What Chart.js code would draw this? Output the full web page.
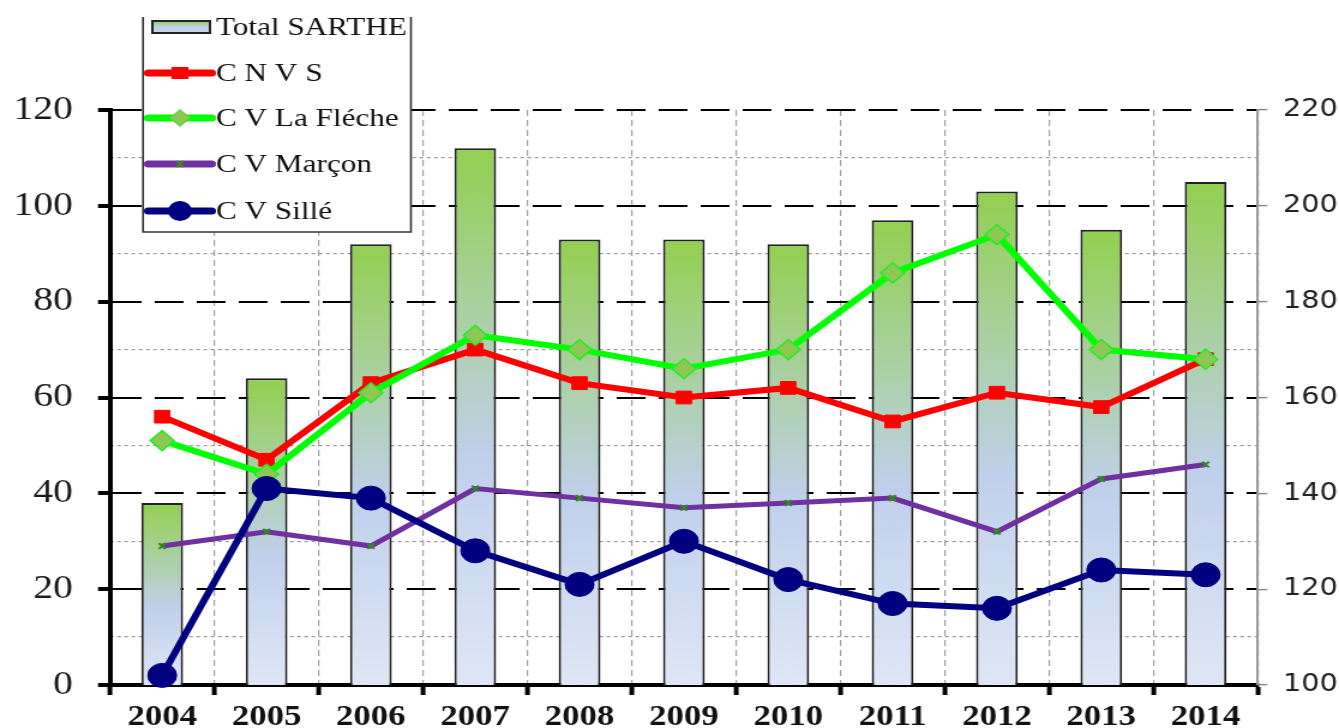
<!DOCTYPE html>
<html><head><meta charset="utf-8">
<script src="https://cdn.jsdelivr.net/npm/chart.js@4.4.1/dist/chart.umd.min.js"></script>
<style>
html,body{margin:0;padding:0;background:#fff;overflow:hidden;width:1339px;height:728px;}
#c{display:block;transform:scaleX(1.19982);transform-origin:0 0;}
</style></head><body>
<canvas id="c" width="1116" height="745"></canvas>
<script>
// ---- data ----
const years = ['2004','2005','2006','2007','2008','2009','2010','2011','2012','2013','2014'];
const totalSarthe = [138,164,192,212,193,193,192,197,203,195,205];
const cnvs = [56,47,63,70,63,60,62,55,61,58,68];
const laFleche = [51,44,61,73,70,66,70,86,94,70,68];
const marcon = [29,32,29,41,39,37,38,39,32,43,46];
const sille = [2,41,39,28,21,30,22,17,16,24,23];
const seriesNames = ['Total SARTHE','C N V S','C V La Fléche','C V Marçon','C V Sillé'];
const leftRange = [0,120,20];
const rightRange = [100,220,20,10];

function barFill(ctx){
  const chart = ctx.chart, area = chart.chartArea;
  if(!area || ctx.type !== 'data') return '#b0cfa8';
  const top = chart.scales.y2.getPixelForValue(ctx.raw);
  const g = chart.ctx.createLinearGradient(0, top, 0, area.bottom);
  g.addColorStop(0,'#92d050');
  g.addColorStop(0.58,'#c0d0ec');
  g.addColorStop(1,'#dfe7f5');
  return g;
}

const legendPlugin = {
  id:'boxLegend',
  afterDraw(chart){
    const c = chart.ctx;
    c.save();
    const L=119.2, R=342.5, T=17, B=232;
    c.fillStyle='#fff'; c.fillRect(L,T,R-L,B-T);
    c.strokeStyle='#333'; c.lineWidth=1.6;
    c.beginPath(); c.moveTo(L,T); c.lineTo(L,B); c.lineTo(R,B); c.lineTo(R,T); c.stroke();
    const rows=[27,73,118,164,211];
    const x1=123.5, x2=176.5, cx=150;
    let g=c.createLinearGradient(0,21,0,33);
    g.addColorStop(0,'#92d050'); g.addColorStop(0.5,'#c0d0ec'); g.addColorStop(1,'#c6d5ee');
    c.fillStyle=g; c.fillRect(127,21,48,12);
    c.strokeStyle='#222'; c.lineWidth=2; c.strokeRect(127,21,48,12);
    c.lineCap='round';
    const line=(y,col)=>{c.strokeStyle=col;c.lineWidth=7;c.beginPath();c.moveTo(x1,y);c.lineTo(x2,y);c.stroke();};
    line(rows[1],'#ff0000');
    c.fillStyle='#ff0000'; c.fillRect(cx-7,rows[1]-6,14,12);
    line(rows[2],'#00ff00');
    c.beginPath(); c.moveTo(cx-8,rows[2]); c.lineTo(cx,rows[2]-8); c.lineTo(cx+8,rows[2]); c.lineTo(cx,rows[2]+8); c.closePath();
    c.fillStyle='#8dc854'; c.fill(); c.lineWidth=1.5; c.strokeStyle='#6ad040'; c.stroke();
    line(rows[3],'#7030a0');
    c.strokeStyle='#3a8a2a'; c.lineWidth=2; c.lineCap='butt';
    c.beginPath(); c.moveTo(cx-3,rows[3]-3); c.lineTo(cx+3,rows[3]+3); c.moveTo(cx+3,rows[3]-3); c.lineTo(cx-3,rows[3]+3); c.stroke();
    c.lineCap='round';
    line(rows[4],'#000080');
    c.fillStyle='#000080'; c.beginPath(); c.arc(cx,rows[4],10,0,Math.PI*2); c.fill();
    c.font='26px "Liberation Serif"'; c.fillStyle='#111'; c.textBaseline='middle'; c.textAlign='left';
    seriesNames.forEach((n,i)=>c.fillText(n,180,rows[i]+1));
    c.restore();
  }
};

new Chart(document.getElementById('c'), {
  data: {
    labels: years,
    datasets: [
      {type:'line', label:seriesNames[4], data:sille, yAxisID:'y', order:1, borderColor:'#000080', borderWidth:6, tension:0,
       pointStyle:'circle', pointRadius:12, pointBackgroundColor:'#000080', pointBorderColor:'#000080', pointBorderWidth:1, clip:false},
      {type:'line', label:seriesNames[3], data:marcon, yAxisID:'y', order:2, borderColor:'#7030a0', borderWidth:5, tension:0,
       pointStyle:'crossRot', pointRadius:4, pointBorderColor:'#2f8a22', pointBorderWidth:2, clip:false},
      {type:'line', label:seriesNames[2], data:laFleche, yAxisID:'y', order:3, borderColor:'#00ff00', borderWidth:6, tension:0,
       pointStyle:'rectRot', pointRadius:10, pointBackgroundColor:'#8dc854', pointBorderColor:'#22ee22', pointBorderWidth:1.5, clip:false},
      {type:'line', label:seriesNames[1], data:cnvs, yAxisID:'y', order:4, borderColor:'#ff0000', borderWidth:6, tension:0,
       pointStyle:'rect', pointRadius:9, pointBackgroundColor:'#ff0000', pointBorderColor:'#ff0000', pointBorderWidth:1, clip:false},
      {type:'bar', label:seriesNames[0], data:totalSarthe, yAxisID:'y2', order:5, backgroundColor:barFill, borderColor:'#222', borderWidth:2,
       borderSkipped:false, barPercentage:0.4, categoryPercentage:1}
    ]
  },
  options: {
    responsive:false, animation:false, devicePixelRatio:1,
    layout:{padding:{top:110,left:0,right:0,bottom:0}},
    plugins:{legend:{display:false}, tooltip:{enabled:false}},
    scales:{
      x:{
        grid:{offset:true, color:(c)=> (c.index===0 ? 'rgba(0,0,0,0)' : '#a0a0a0'), lineWidth:1.2,
              tickColor:'#000', tickWidth:4, tickLength:10, tickBorderDash:[]},
        border:{display:true, color:'#000', width:4, dash:[6,4]},
        ticks:{font:{family:'"Liberation Serif"', size:29, weight:'bold'}, color:'#111', padding:5, maxRotation:0},
        afterFit:(s)=>{s.height=60;}
      },
      y:{
        position:'left', min:leftRange[0], max:leftRange[1],
        ticks:{stepSize:leftRange[2], font:{family:'"Liberation Serif"', size:33}, color:'#1a1a1a', padding:21},
        grid:{color:'#000', lineWidth:2, tickColor:'#000', tickWidth:4, tickLength:10, tickBorderDash:[]},
        border:{display:true, color:'#000', width:4, dash:[24,11]},
        afterFit:(s)=>{s.width=91.7;}
      },
      y2:{
        position:'right', min:rightRange[0], max:rightRange[1],
        ticks:{stepSize:rightRange[3], font:{family:'"DejaVu Sans"', size:24}, color:'#222', padding:13,
               callback:(v)=> (v % rightRange[2] === 0 ? v : '')},
        grid:{color:(c)=> (c.tick && c.tick.value % rightRange[2] === 0 ? 'rgba(0,0,0,0)' : '#9a9a9a'), lineWidth:1.2,
              tickColor:(c)=> (c.tick && c.tick.value % rightRange[2] === 0 ? '#8a8a8a' : 'rgba(0,0,0,0)'),
              tickWidth:1.5, tickLength:8, tickBorderDash:[]},
        border:{display:true, color:'#999', width:2, dash:[3,3]},
        afterFit:(s)=>{s.width=67.7;}
      }
    }
  },
  plugins:[legendPlugin]
});
</script>
</body></html>
